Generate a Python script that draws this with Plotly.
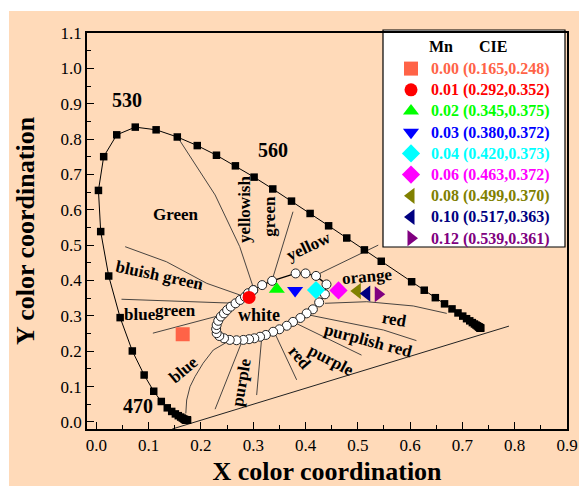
import plotly.graph_objects as go

FONT = "Liberation Serif, Times New Roman, serif"
PEACH = "#FFDAB9"

# --- CIE 1931 spectral locus (5 nm points as drawn; 590 nm absent in the figure)
locus_x = [0.1741, 0.1740, 0.1738, 0.1736, 0.1733, 0.1731, 0.1726, 0.1721, 0.1714, 0.1703,
           0.1689, 0.1669, 0.1644, 0.1611, 0.1566, 0.1510, 0.1440, 0.1355, 0.1241, 0.1096,
           0.0913, 0.0687, 0.0454, 0.0235, 0.0082, 0.0039, 0.0139, 0.0389, 0.0743, 0.1142,
           0.1547, 0.1929, 0.2296, 0.2658, 0.3016, 0.3373, 0.3731, 0.4087, 0.4441, 0.4788,
           0.5125, 0.5448, 0.6029, 0.6270, 0.6482, 0.6658, 0.6801, 0.6915, 0.7006, 0.7079,
           0.7140, 0.7190, 0.7230, 0.7260, 0.7283, 0.7300, 0.7311, 0.7320, 0.7327, 0.7334,
           0.7340, 0.7344, 0.7346, 0.7347]
locus_y = [0.0050, 0.0050, 0.0049, 0.0049, 0.0048, 0.0048, 0.0048, 0.0048, 0.0051, 0.0058,
           0.0069, 0.0086, 0.0109, 0.0138, 0.0177, 0.0227, 0.0297, 0.0399, 0.0578, 0.0868,
           0.1327, 0.2007, 0.2950, 0.4127, 0.5384, 0.6548, 0.7502, 0.8120, 0.8338, 0.8262,
           0.8059, 0.7816, 0.7543, 0.7243, 0.6923, 0.6589, 0.6245, 0.5896, 0.5547, 0.5202,
           0.4866, 0.4544, 0.3965, 0.3725, 0.3514, 0.3340, 0.3197, 0.3083, 0.2993, 0.2920,
           0.2859, 0.2809, 0.2770, 0.2740, 0.2717, 0.2700, 0.2689, 0.2680, 0.2673, 0.2666,
           0.2660, 0.2656, 0.2654, 0.2653]

# --- line of purples
purple_x = [0.145, 0.789]
purple_y = [-0.020, 0.271]

# --- white-region loop (open circles)
loop_x = [0.300, 0.317, 0.336, 0.381, 0.400, 0.420, 0.440, 0.437, 0.426, 0.414, 0.402, 0.390,
          0.376, 0.364, 0.350, 0.338, 0.324, 0.313, 0.302, 0.292, 0.281, 0.268, 0.255, 0.244,
          0.235, 0.230, 0.229, 0.230, 0.233, 0.238, 0.244, 0.250, 0.257, 0.266, 0.275, 0.284,
          0.290, 0.300]
loop_y = [0.373, 0.387, 0.399, 0.420, 0.420, 0.413, 0.389, 0.361, 0.338, 0.3185, 0.307, 0.294,
          0.283, 0.272, 0.262, 0.255, 0.246, 0.241, 0.2365, 0.234, 0.232, 0.231, 0.232, 0.2365,
          0.243, 0.251, 0.263, 0.274, 0.286, 0.298, 0.307, 0.3165, 0.326, 0.3355, 0.345, 0.354,
          0.364, 0.373]

# --- colour-region boundary lines
boundary_lines = [
    [(0.155, 0.806), (0.190, 0.725), (0.227, 0.642), (0.274, 0.496), (0.301, 0.376)],
    [(0.376, 0.5945), (0.336, 0.401)],
    [(0.421, 0.4155), (0.539, 0.500)],
    [(0.437, 0.3355), (0.517, 0.340), (0.606, 0.328), (0.670, 0.307)],
    [(0.408, 0.302), (0.549, 0.260), (0.612, 0.230)],
    [(0.376, 0.283), (0.507, 0.189)],
    [(0.3415, 0.250), (0.383, 0.119)],
    [(0.316, 0.2365), (0.3065, 0.076)],
    [(0.279, 0.230), (0.227, 0.036)],
    [(0.257, 0.232), (0.2235, 0.2034), (0.204, 0.166), (0.1885, 0.128), (0.179, 0.0996),
     (0.1726, 0.062), (0.171, 0.024)],
    [(0.108, 0.251), (0.233, 0.300)],
    [(0.048, 0.347), (0.268, 0.3355)],
    [(0.055, 0.4956), (0.134, 0.453), (0.211, 0.392), (0.2745, 0.359)],
]

# --- samples
mn = ["0.00", "0.01", "0.02", "0.03", "0.04", "0.06", "0.08", "0.10", "0.12"]
cie_x = [0.165, 0.292, 0.345, 0.380, 0.420, 0.463, 0.499, 0.517, 0.539]
cie_y = [0.248, 0.352, 0.375, 0.372, 0.373, 0.372, 0.370, 0.363, 0.361]
sample_colors = ["#FF6347", "#FF0000", "#00FF00", "#0000FF", "#00FFFF", "#FF00FF",
                 "#808000", "#000080", "#800080"]
sample_symbols = ["square", "circle", "triangle-up", "triangle-down", "diamond", "diamond",
                  "triangle-left", "triangle-left", "triangle-right"]

# --- region labels: (text, x, y, angle, size)
labels = [
    ("530", 0.058, 0.910, 0, 20), ("560", 0.338, 0.768, 0, 20), ("470", 0.079, 0.046, 0, 20),
    ("Green", 0.152, 0.588, 0, 17), ("yellowish", 0.282, 0.6015, -90, 17),
    ("green", 0.332, 0.580, -90, 17), ("yellow", 0.405, 0.4975, -25, 17),
    ("orange", 0.518, 0.410, -5, 17), ("white", 0.311, 0.302, 0, 18),
    ("bluish green", 0.122, 0.4155, 12, 17), ("blue", 0.083, 0.305, 0, 17),
    ("green", 0.152, 0.314, 0, 17), ("blue", 0.1675, 0.147, -40, 17),
    ("purple", 0.278, 0.113, -80, 17), ("red", 0.388, 0.181, 50, 17),
    ("purple", 0.450, 0.175, 28, 17), ("purplish red", 0.519, 0.229, 15, 17),
    ("red", 0.571, 0.291, 10, 17),
]

fig = go.Figure()

for line in boundary_lines:
    fig.add_trace(go.Scatter(x=[p[0] for p in line], y=[p[1] for p in line], mode="lines",
                             line=dict(color="#333333", width=0.9), showlegend=False,
                             hoverinfo="skip"))

fig.add_trace(go.Scatter(x=purple_x, y=purple_y, mode="lines",
                         line=dict(color="#222222", width=1), showlegend=False))

fig.add_trace(go.Scatter(x=locus_x, y=locus_y, mode="lines+markers",
                         line=dict(color="black", width=1),
                         marker=dict(symbol="square", size=7.5, color="black"),
                         showlegend=False))

fig.add_trace(go.Scatter(x=loop_x, y=loop_y, mode="lines+markers",
                         line=dict(color="black", width=1.3),
                         marker=dict(symbol="circle", size=9, color="white",
                                     line=dict(color="#222222", width=1)),
                         showlegend=False))

for m, x, y, c, s in zip(mn, cie_x, cie_y, sample_colors, sample_symbols):
    fig.add_trace(go.Scatter(
        x=[x], y=[y], mode="markers",
        marker=dict(symbol=s, size=14 if s != "circle" else 13, color=c, line=dict(width=0)),
        name=f'<span style="font-size:16px;color:{c}">{m} ({x:.3f},{y:.3f})</span>'))

for t, x, y, a, sz in labels:
    fig.add_annotation(x=x, y=y, text=f"<b>{t}</b>", showarrow=False, textangle=a,
                       xanchor="center", yanchor="middle",
                       font=dict(family=FONT, size=sz, color="black"))

# legend header
fig.add_annotation(xref="paper", yref="paper", x=(441 - 87) / 480, y=(429 - 46) / 396,
                   text="<b>Mn</b>", showarrow=False, xanchor="center", yanchor="middle",
                   font=dict(family=FONT, size=16, color="black"))
fig.add_annotation(xref="paper", yref="paper", x=(493 - 87) / 480, y=(429 - 46) / 396,
                   text="<b>CIE</b>", showarrow=False, xanchor="center", yanchor="middle",
                   font=dict(family=FONT, size=16, color="black"))

# peach background with white strip on left/top, legend box
fig.add_shape(type="rect", xref="paper", yref="paper", x0=(9 - 87) / 480, x1=1.1,
              y0=-0.2, y1=(429 - 11) / 396, fillcolor=PEACH, line=dict(width=0), layer="below")
fig.add_shape(type="rect", xref="paper", yref="paper", x0=(383 - 87) / 480, x1=(565 - 87) / 480,
              y0=(429 - 247) / 396, y1=(429 - 30) / 396, fillcolor="white",
              line=dict(color="black", width=1.2), layer="below")

axis_common = dict(
    showline=True, linecolor="black", linewidth=1.5, mirror=True, automargin=False,
    ticks="inside", ticklen=7, tickwidth=1.2, tickcolor="black",
    minor=dict(ticks="inside", ticklen=4, tickwidth=1, tickcolor="black", dtick=0.05),
    showgrid=False, zeroline=False, tickformat=".1f", tick0=0, dtick=0.1,
    tickfont=dict(family=FONT, size=17, color="black"),
)

fig.update_layout(
    width=579, height=486,
    margin=dict(l=87, r=12, t=33, b=57),
    paper_bgcolor="white", plot_bgcolor="rgba(0,0,0,0)",
    xaxis=dict(range=[-0.018, 0.9], **axis_common,
               title=dict(text="<b>X color coordination</b>", standoff=10,
                          font=dict(family=FONT, size=26, color="black"))),
    yaxis=dict(range=[-0.02, 1.1], **axis_common,
               title=dict(text="<b>Y color coordination</b>", standoff=18,
                          font=dict(family=FONT, size=26, color="black"))),
    legend=dict(x=(391 - 87) / 480, y=(429 - 53) / 396, xanchor="left", yanchor="top",
                bgcolor="rgba(0,0,0,0)", borderwidth=0, tracegroupgap=0,
                font=dict(family=FONT, size=14, color="black", weight="bold")),
    showlegend=True,
)

fig.write_html("out.html")
